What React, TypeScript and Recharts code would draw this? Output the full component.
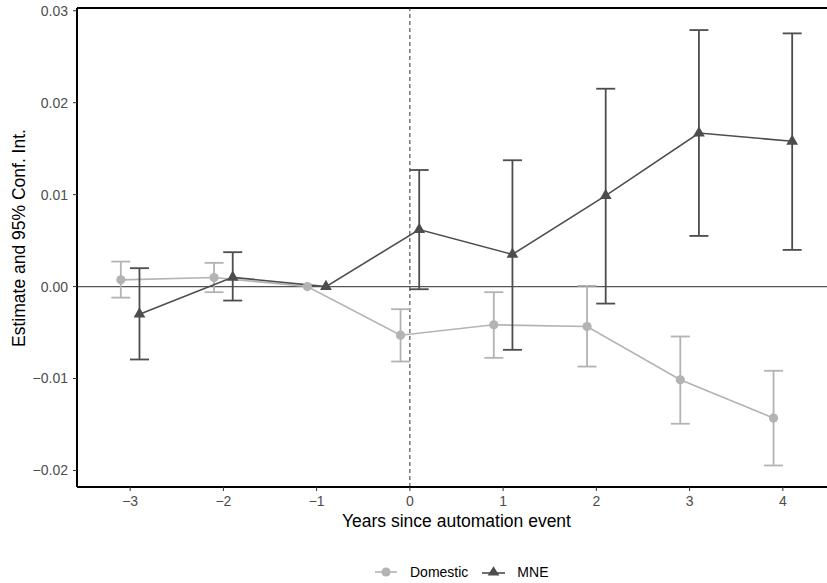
import React from 'react';
import {
  ComposedChart,
  Line,
  XAxis,
  YAxis,
  ErrorBar,
  ReferenceLine,
} from 'recharts';

const years = [-3, -2, -1, 0, 1, 2, 3, 4];
const domesticEst = [0.00073, 0.00098, 0, -0.00529, -0.00416, -0.00435, -0.01014, -0.0143];
const domesticLo = [-0.0012, -0.00061, 0, -0.00815, -0.00775, -0.0087, -0.01492, -0.01946];
const domesticHi = [0.00272, 0.00258, 0, -0.00246, -0.00061, 0.00008, -0.00543, -0.00916];
const mneEst = [-0.003, 0.001, 0, 0.0062, 0.0035, 0.0099, 0.0167, 0.0158];
const mneLo = [-0.00793, -0.00152, 0, -0.00029, -0.00688, -0.00185, 0.00551, 0.00399];
const mneHi = [0.002, 0.00374, 0, 0.01268, 0.01374, 0.02152, 0.0279, 0.02754];
const yTicks = [-0.02, -0.01, 0, 0.01, 0.02, 0.03];
const xTicks = [-3, -2, -1, 0, 1, 2, 3, 4];
const dodge = 0.1;

const DOM_COLOR = '#b3b3b3';
const MNE_COLOR = '#4d4d4d';
const FONT = '"Liberation Sans", Arial, Helvetica, sans-serif';

const buildSeries = (est: number[], lo: number[], hi: number[], shift: number) =>
  years.map((yr, i) => ({
    x: yr + shift,
    y: est[i],
    err: lo[i] === hi[i] ? null : [est[i] - lo[i], hi[i] - est[i]],
  }));

const domesticData = buildSeries(domesticEst, domesticLo, domesticHi, -dodge);
const mneData = buildSeries(mneEst, mneLo, mneHi, dodge);

const fmtY = (v: number) => (v === 0 ? '0.00' : v.toFixed(2).replace('-', '\u2212'));
const fmtX = (v: number) => String(v).replace('-', '\u2212');

const CircleDot = (props: any) => {
  const { cx, cy, index } = props;
  if (cx == null || cy == null) return <g key={`c-${index}`} />;
  return <circle key={`c-${index}`} cx={cx} cy={cy} r={4.6} fill={DOM_COLOR} stroke="none" />;
};

const TriDot = (props: any) => {
  const { cx, cy, index } = props;
  if (cx == null || cy == null) return <g key={`t-${index}`} />;
  const r = 6.8;
  const hw = r * 0.866;
  const pts = `${cx},${cy - r} ${cx + hw},${cy + r / 2} ${cx - hw},${cy + r / 2}`;
  return <polygon key={`t-${index}`} points={pts} fill={MNE_COLOR} stroke="none" />;
};

const XTitle = (props: any) => {
  const vb = props.viewBox || {};
  return (
    <text
      x={vb.x + vb.width / 2}
      y={vb.y + 40}
      textAnchor="middle"
      fontSize={17.5}
      fontFamily={FONT}
      fill="#000"
    >
      Years since automation event
    </text>
  );
};

const YTitle = (props: any) => {
  const vb = props.viewBox || {};
  const x = 25;
  const y = vb.y + vb.height / 2 - 9.5;
  return (
    <text
      x={x}
      y={y}
      transform={`rotate(-90 ${x} ${y})`}
      textAnchor="middle"
      fontSize={17.5}
      fontFamily={FONT}
      fill="#000"
    >
      Estimate and 95% Conf. Int.
    </text>
  );
};

export default function App() {
  return (
    <div
      style={{
        position: 'absolute',
        left: 0,
        top: 0,
        width: 827,
        height: 583,
        overflow: 'hidden',
        background: '#fff',
      }}
    >
      <ComposedChart width={836} height={583} margin={{ top: 8, right: 0, bottom: 46, left: 0 }}>
        <XAxis
          type="number"
          dataKey="x"
          domain={[-3.57, 4.57]}
          allowDataOverflow
          ticks={xTicks}
          tickFormatter={fmtX}
          interval={0}
          height={50}
          axisLine={{ stroke: '#000', strokeWidth: 2 }}
          tickLine={{ stroke: '#333', strokeWidth: 1 }}
          tickSize={4}
          tickMargin={5}
          tick={{ fill: '#4d4d4d', fontSize: 14, fontFamily: FONT }}
          label={<XTitle />}
        />
        <YAxis
          type="number"
          domain={[-0.0218, 0.0303]}
          allowDataOverflow
          ticks={yTicks}
          tickFormatter={fmtY}
          interval={0}
          width={77}
          axisLine={{ stroke: '#000', strokeWidth: 2 }}
          tickLine={{ stroke: '#333', strokeWidth: 1 }}
          tickSize={4}
          tickMargin={5}
          tick={{ fill: '#4d4d4d', fontSize: 14, fontFamily: FONT }}
          label={<YTitle />}
        />
        <ReferenceLine y={0.0303} stroke="#000" strokeWidth={2} />
        <ReferenceLine y={0} stroke="#555" strokeWidth={1.3} />
        <ReferenceLine x={0} stroke="#333" strokeWidth={1} strokeDasharray="4 3" />
        <Line
          data={domesticData}
          dataKey="y"
          name="Domestic"
          stroke={DOM_COLOR}
          strokeWidth={1.6}
          dot={CircleDot}
          activeDot={false}
          isAnimationActive={false}
        >
          <ErrorBar dataKey="err" direction="y" width={9.5} stroke={DOM_COLOR} strokeWidth={1.8} />
        </Line>
        <Line
          data={mneData}
          dataKey="y"
          name="MNE"
          stroke={MNE_COLOR}
          strokeWidth={1.6}
          dot={TriDot}
          activeDot={false}
          isAnimationActive={false}
        >
          <ErrorBar dataKey="err" direction="y" width={9.5} stroke={MNE_COLOR} strokeWidth={1.8} />
        </Line>
      </ComposedChart>
      <div
        style={{
          position: 'absolute',
          left: 375,
          top: 563,
          height: 18,
          display: 'flex',
          alignItems: 'center',
          fontFamily: FONT,
          fontSize: 14,
          color: '#000',
          whiteSpace: 'nowrap',
        }}
      >
        <svg width={22} height={14} style={{ display: 'block' }}>
          <line x1={0} y1={7} x2={22} y2={7} stroke={DOM_COLOR} strokeWidth={1.6} />
          <circle cx={11} cy={7} r={4.6} fill={DOM_COLOR} />
        </svg>
        <span style={{ marginLeft: 13 }}>Domestic</span>
        <svg width={23} height={14} style={{ display: 'block', marginLeft: 14 }}>
          <line x1={0} y1={8} x2={23} y2={8} stroke={MNE_COLOR} strokeWidth={1.6} />
          <polygon points="11.5,1.2 17.4,10.4 5.6,10.4" fill={MNE_COLOR} />
        </svg>
        <span style={{ marginLeft: 12 }}>MNE</span>
      </div>
    </div>
  );
}
